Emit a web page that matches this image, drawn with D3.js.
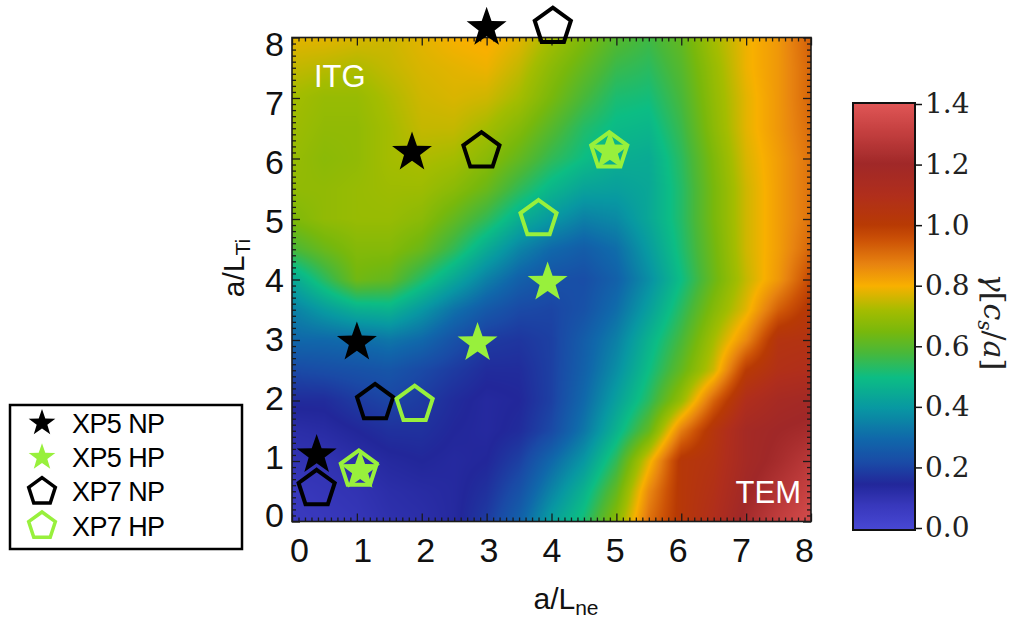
<!DOCTYPE html>
<html>
<head>
<meta charset="utf-8">
<script src="https://cdn.jsdelivr.net/npm/d3@7"></script>
<style>
  body { margin: 0; background: #fff; }
  svg { display: block; }
</style>
</head>
<body>
<svg id="chart" width="1032" height="621"></svg>
<script>
// Grid nodes of the growth-rate map
const lneNodes = [0, 0.5, 1, 1.5, 2, 2.5, 3, 3.5, 4, 4.5, 5, 5.5, 6, 6.5, 7, 7.5, 8];
const tiNodes  = [8, 7.5, 7, 6.5, 6, 5.5, 5, 4.5, 4, 3.5, 3, 2.5, 2, 1.5, 1, 0.5, 0];

// gamma [c_s/a]; one row per a/L_Ti node (top row a/L_Ti = 8), one column per a/L_ne node
const gammaRows = [
  [0.78,0.78,0.77,0.76,0.78,0.80,0.81,0.78,0.72,0.66,0.60,0.57,0.62,0.72,0.79,0.84,0.93],
  [0.75,0.74,0.73,0.75,0.77,0.78,0.79,0.75,0.68,0.62,0.56,0.54,0.60,0.70,0.79,0.84,0.92],
  [0.72,0.70,0.70,0.73,0.76,0.77,0.76,0.72,0.65,0.58,0.52,0.51,0.58,0.69,0.78,0.84,0.92],
  [0.71,0.69,0.69,0.72,0.75,0.75,0.72,0.67,0.60,0.53,0.49,0.48,0.56,0.68,0.78,0.84,0.91],
  [0.70,0.68,0.69,0.72,0.73,0.72,0.68,0.62,0.55,0.50,0.46,0.45,0.54,0.66,0.77,0.83,0.90],
  [0.69,0.69,0.70,0.71,0.71,0.68,0.63,0.55,0.48,0.43,0.42,0.44,0.53,0.65,0.76,0.83,0.90],
  [0.66,0.69,0.70,0.70,0.68,0.62,0.55,0.46,0.40,0.35,0.37,0.44,0.53,0.65,0.76,0.83,0.90],
  [0.58,0.63,0.67,0.67,0.63,0.55,0.45,0.36,0.30,0.27,0.31,0.41,0.52,0.64,0.76,0.83,0.92],
  [0.44,0.54,0.64,0.62,0.53,0.44,0.35,0.28,0.24,0.23,0.28,0.38,0.50,0.63,0.75,0.84,0.97],
  [0.35,0.41,0.46,0.47,0.40,0.32,0.26,0.22,0.21,0.24,0.31,0.42,0.54,0.67,0.78,0.93,1.02],
  [0.30,0.30,0.31,0.33,0.30,0.24,0.19,0.18,0.20,0.27,0.35,0.47,0.58,0.72,0.86,1.05,1.06],
  [0.22,0.23,0.24,0.25,0.22,0.19,0.16,0.16,0.20,0.28,0.38,0.50,0.62,0.76,1.00,1.08,1.10],
  [0.16,0.16,0.19,0.21,0.19,0.16,0.14,0.15,0.20,0.30,0.42,0.54,0.70,0.92,1.10,1.16,1.18],
  [0.12,0.13,0.15,0.17,0.17,0.15,0.14,0.16,0.22,0.33,0.47,0.62,0.88,1.04,1.17,1.20,1.22],
  [0.10,0.10,0.12,0.14,0.15,0.14,0.15,0.20,0.30,0.40,0.55,0.78,1.02,1.06,1.17,1.22,1.28],
  [0.08,0.09,0.10,0.12,0.13,0.14,0.17,0.24,0.36,0.47,0.62,0.86,1.02,1.08,1.19,1.26,1.32],
  [0.07,0.08,0.09,0.11,0.12,0.14,0.19,0.28,0.42,0.52,0.68,0.90,1.02,1.10,1.22,1.30,1.36]
];

// Experimental points [a/L_ne, a/L_Ti]
const xp5NP = [[3.00, 8.16], [1.85, 6.10], [1.00, 2.96], [0.38, 1.10]];
const xp5HP = [[1.05, 0.84], [2.86, 2.95], [3.94, 3.95], [4.90, 6.12]];
const xp7NP = [[4.02, 8.18], [2.92, 6.12], [1.28, 1.96], [0.38, 0.54]];
const xp7HP = [[1.03, 0.86], [1.89, 1.93], [3.80, 5.00], [4.89, 6.12]];

const axisTicks = [0, 1, 2, 3, 4, 5, 6, 7, 8];
const cbarTicks = [0.0, 0.2, 0.4, 0.6, 0.8, 1.0, 1.2, 1.4];

// Colour map stops
const cmapStops  = [0.00, 0.08, 0.15, 0.22, 0.30, 0.40, 0.50, 0.58, 0.65, 0.72, 0.80, 0.87, 0.95, 1.00, 1.10, 1.20, 1.30, 1.40];
const cmapColors = ["#4848d4","#3838bc","#22279a","#1a4aa6","#1068aa","#0898a2","#0cbd84","#48b83a","#78b80c",
                    "#a4bc00","#f8b000","#e88410","#cc5206","#b83a04","#b02e1c","#a02828","#c23e3e","#e05656"];

const svg = d3.select("#chart");
const x = d3.scaleLinear().domain([0, 8]).range([292, 811]);
const y = d3.scaleLinear().domain([0, 8]).range([521.5, 37.5]);
const color = d3.scaleLinear().domain(cmapStops).range(cmapColors).clamp(true);

// ---- heat map: bilinear shading between grid nodes ----
const tiNodesAsc = tiNodes.slice().reverse();
function gammaAt(u, v) {
  const nc = lneNodes.length, nr = tiNodesAsc.length;
  const i = Math.min(nc - 2, Math.max(0, d3.bisectRight(lneNodes, u) - 1));
  const tu = Math.max(0, Math.min(1, (u - lneNodes[i]) / (lneNodes[i + 1] - lneNodes[i])));
  const j = Math.min(nr - 2, Math.max(0, d3.bisectRight(tiNodesAsc, v) - 1));
  const tv = Math.max(0, Math.min(1, (v - tiNodesAsc[j]) / (tiNodesAsc[j + 1] - tiNodesAsc[j])));
  const r0 = nr - 1 - j, r1 = nr - 2 - j;
  const a = gammaRows[r0][i], b = gammaRows[r0][i + 1];
  const c = gammaRows[r1][i], d = gammaRows[r1][i + 1];
  return (a * (1 - tu) + b * tu) * (1 - tv) + (c * (1 - tu) + d * tu) * tv;
}

const px0 = x(0), py0 = y(8);
const W = Math.round(x(8) - x(0)), H = Math.round(y(0) - y(8));
const cnv = document.createElement("canvas");
cnv.width = W; cnv.height = H;
const ctx = cnv.getContext("2d");
const img = ctx.createImageData(W, H);
for (let py = 0; py < H; py++) {
  const v = y.invert(py0 + py + 0.5);
  for (let px = 0; px < W; px++) {
    const u = x.invert(px0 + px + 0.5);
    const c = d3.rgb(color(gammaAt(u, v)));
    const k = 4 * (py * W + px);
    img.data[k] = c.r; img.data[k + 1] = c.g; img.data[k + 2] = c.b; img.data[k + 3] = 255;
  }
}
ctx.putImageData(img, 0, 0);
svg.append("image")
  .attr("href", cnv.toDataURL())
  .attr("x", px0).attr("y", py0)
  .attr("width", x(8) - x(0)).attr("height", y(0) - y(8))
  .attr("preserveAspectRatio", "none");

// ---- inward ticks on all four sides ----
const minor = d3.range(0, 81).map(i => i / 10).filter(t => Math.abs(t - Math.round(t)) > 1e-6);
function tickSet(axisFn, scale, values, len) {
  return axisFn(scale).tickValues(values).tickSize(len).tickFormat("");
}
const sides = [
  { fn: d3.axisTop,    s: x, tr: `translate(0,${y(0)})` },
  { fn: d3.axisBottom, s: x, tr: `translate(0,${y(8)})` },
  { fn: d3.axisRight,  s: y, tr: `translate(${x(0)},0)` },
  { fn: d3.axisLeft,   s: y, tr: `translate(${x(8)},0)` }
];
sides.forEach(sd => {
  [[minor, 4], [axisTicks, 8]].forEach(([vals, len]) => {
    const g = svg.append("g").attr("transform", sd.tr).call(tickSet(sd.fn, sd.s, vals, len));
    g.select(".domain").remove();
    g.selectAll("line").attr("stroke", "#1a1a1a").attr("stroke-width", 1.3);
  });
});

svg.append("rect")
  .attr("x", x(0)).attr("y", y(8))
  .attr("width", x(8) - x(0)).attr("height", y(0) - y(8))
  .attr("fill", "none").attr("stroke", "#1a1a1a").attr("stroke-width", 1.6);

// ---- tick labels ----
const xLab = d3.scaleLinear().domain([0, 8]).range([299, 804]);
const yLab = d3.scaleLinear().domain([0, 8]).range([516, 45]);
const gx = svg.append("g").attr("transform", `translate(0,${y(0)})`)
  .call(d3.axisBottom(xLab).tickValues(axisTicks).tickSize(0).tickPadding(16).tickFormat(d3.format("d")));
gx.select(".domain").remove();
gx.selectAll("text").attr("font-family", "Liberation Sans, Arial, sans-serif").attr("font-size", 34).attr("fill", "#111");

const gy = svg.append("g").attr("transform", `translate(284,0)`)
  .call(d3.axisLeft(yLab).tickValues(axisTicks).tickSize(0).tickPadding(0).tickFormat(d3.format("d")));
gy.select(".domain").remove();
gy.selectAll("text").attr("font-family", "Liberation Sans, Arial, sans-serif").attr("font-size", 34).attr("fill", "#111");

// ---- axis titles ----
const xt = svg.append("text").attr("x", 566).attr("y", 609)
  .attr("text-anchor", "middle")
  .attr("font-family", "Liberation Sans, Arial, sans-serif").attr("font-size", 30).attr("fill", "#111");
xt.append("tspan").text("a/L");
xt.append("tspan").attr("font-size", 21).attr("dy", 6).text("ne");

const yt = svg.append("text").attr("transform", "translate(244,268) rotate(-90)")
  .attr("text-anchor", "middle")
  .attr("font-family", "Liberation Sans, Arial, sans-serif").attr("font-size", 30).attr("fill", "#111");
yt.append("tspan").text("a/L");
yt.append("tspan").attr("font-size", 21).attr("dy", 6).text("Ti");

// ---- regime labels ----
svg.append("text").attr("x", 314).attr("y", 87).text("ITG")
  .attr("font-family", "Liberation Sans, Arial, sans-serif").attr("font-size", 31).attr("fill", "#fff");
svg.append("text").attr("x", 801).attr("y", 503).attr("text-anchor", "end").text("TEM")
  .attr("font-family", "Liberation Sans, Arial, sans-serif").attr("font-size", 31).attr("fill", "#fff");

// ---- markers ----
const lineClosed = d3.line().curve(d3.curveLinearClosed);
function starPath(R, r) {
  return lineClosed(d3.range(10).map(i => {
    const a = -Math.PI / 2 + i * Math.PI / 5, rad = i % 2 ? r : R;
    return [rad * Math.cos(a), rad * Math.sin(a)];
  }));
}
function pentPath(R) {
  return lineClosed(d3.range(5).map(i => {
    const a = -Math.PI / 2 + i * 2 * Math.PI / 5;
    return [R * Math.cos(a), R * Math.sin(a)];
  }));
}
const GREEN = "#98f03c";

function drawStars(pts, fill, R) {
  svg.append("g").selectAll("path").data(pts).join("path")
    .attr("transform", d => `translate(${x(d[0])},${y(d[1])})`)
    .attr("d", starPath(R, R * 0.4)).attr("fill", fill);
}
function drawPents(pts, stroke, R) {
  svg.append("g").selectAll("path").data(pts).join("path")
    .attr("transform", d => `translate(${x(d[0])},${y(d[1])})`)
    .attr("d", pentPath(R)).attr("fill", "none")
    .attr("stroke", stroke).attr("stroke-width", 4).attr("stroke-linejoin", "miter");
}
drawPents(xp7NP, "#000", 19);
drawPents(xp7HP, GREEN, 19);
drawStars(xp5NP, "#000", 21);
drawStars(xp5HP, GREEN, 21);

// ---- colour bar ----
const cb = { x: 853, w: 62, top: 103, bottom: 530 };
const cy = d3.scaleLinear().domain([0, 1.4]).range([528, 104]);
const defs = svg.append("defs");
const grad = defs.append("linearGradient").attr("id", "cbgrad")
  .attr("x1", 0).attr("y1", 1).attr("x2", 0).attr("y2", 0);
d3.range(0, 141).map(i => i / 100).forEach(v => {
  grad.append("stop").attr("offset", v / 1.4).attr("stop-color", color(v));
});
svg.append("rect").attr("x", cb.x).attr("y", cb.top).attr("width", cb.w).attr("height", cb.bottom - cb.top)
  .attr("fill", "url(#cbgrad)");
svg.append("rect").attr("x", cb.x).attr("y", cb.top).attr("width", cb.w).attr("height", cb.bottom - cb.top)
  .attr("fill", "none").attr("stroke", "#111").attr("stroke-width", 2);
const gcb = svg.append("g").attr("transform", `translate(${cb.x + cb.w},0)`)
  .call(d3.axisRight(cy).tickValues(cbarTicks).tickSize(7).tickPadding(3).tickFormat(d3.format(".1f")));
gcb.select(".domain").remove();
gcb.selectAll("line").attr("stroke", "#111").attr("stroke-width", 1.5);
gcb.selectAll("text").attr("font-family", "DejaVu Serif, serif").attr("font-size", 28).attr("fill", "#222");

const cbt = svg.append("text").attr("transform", "translate(984,322) rotate(90)")
  .attr("text-anchor", "middle")
  .attr("font-family", "DejaVu Serif, serif").attr("font-size", 30).attr("fill", "#222");
cbt.append("tspan").attr("font-style", "italic").text("γ");
cbt.append("tspan").text("[");
cbt.append("tspan").attr("font-style", "italic").text("c");
cbt.append("tspan").attr("font-style", "italic").attr("font-size", 20).attr("dy", 6).text("s");
cbt.append("tspan").attr("dy", -6).text("/");
cbt.append("tspan").attr("font-style", "italic").text("a");
cbt.append("tspan").text("]");

// ---- legend ----
const legend = svg.append("g");
legend.append("rect").attr("x", 10).attr("y", 405).attr("width", 232).attr("height", 144)
  .attr("fill", "#fff").attr("stroke", "#000").attr("stroke-width", 2.5);
const legItems = [
  { label: "XP5 NP", kind: "star", c: "#000" },
  { label: "XP5 HP", kind: "star", c: GREEN },
  { label: "XP7 NP", kind: "pent", c: "#000" },
  { label: "XP7 HP", kind: "pent", c: GREEN }
];
const legY = d3.scalePoint().domain(legItems.map(d => d.label)).range([423, 526]);
const rows = legend.selectAll("g.row").data(legItems).join("g")
  .attr("transform", d => `translate(0,${legY(d.label)})`);
rows.append("path")
  .attr("transform", "translate(42,0)")
  .attr("d", d => d.kind === "star" ? starPath(14, 5.6) : pentPath(14))
  .attr("fill", d => d.kind === "star" ? d.c : "none")
  .attr("stroke", d => d.kind === "star" ? "none" : d.c)
  .attr("stroke-width", 3.5);
rows.append("text").attr("x", 72).attr("dy", "0.36em").text(d => d.label)
  .attr("font-family", "Liberation Sans, Arial, sans-serif").attr("font-size", 27)
  .attr("letter-spacing", -0.6).attr("fill", "#000");
</script>
</body>
</html>
